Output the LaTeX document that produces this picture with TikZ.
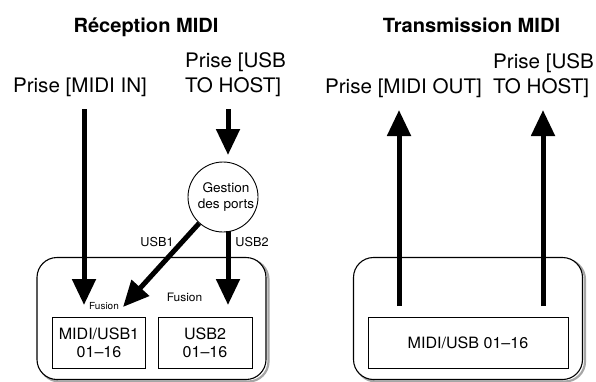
\documentclass[tikz,border=0pt]{standalone}
\usepackage{fontspec}
\setmainfont{TeX Gyre Heros}[FakeStretch=1.03]
\usetikzlibrary{arrows.meta}
\begin{document}
\begin{tikzpicture}[x=1pt,y=-1pt,
  bigarrow/.style={line width=5pt,-{Triangle[width=23pt,length=26pt]}},
  container/.style={draw,line width=1.1pt,rounded corners=20pt,fill=white,inner sep=0pt,
    minimum width=229pt,minimum height=122pt},
  shadowbox/.style={draw=black!35,line width=2.2pt,rounded corners=20pt,inner sep=0pt,
    minimum width=229pt,minimum height=122pt},
  chanbox/.style={draw,line width=0.9pt,fill=white,inner sep=0pt,minimum height=51pt,
    align=center,font=\fontsize{15.6}{18}\selectfont},
  jack/.style={inner sep=0pt,anchor=base,align=left,font=\fontsize{20}{25}\selectfont},
  heading/.style={inner sep=0pt,anchor=base,font=\fontsize{19.5}{20}\selectfont\bfseries},
  small/.style={inner sep=0pt,font=\fontsize{12.3}{13}\selectfont},
]
\useasboundingbox (0,0) rectangle (596,381);

% headings
\node[heading] (t1) at (146,32) {Réception MIDI};
\node[heading] (t2) at (471.5,32) {Transmission MIDI};

% jack labels
\node[jack] (midiin) at (80,92) {Prise [MIDI IN]};
\node[jack,anchor=base west] (usbin1) at (185,67) {Prise [USB};
\node[jack,anchor=base west] (usbin2) at (185,92) {TO HOST]};
\node[jack] (midiout) at (403.5,93) {Prise [MIDI OUT]};
\node[jack,anchor=base west] (usbout1) at (493,68) {Prise [USB};
\node[jack,anchor=base west] (usbout2) at (493,93) {TO HOST]};

% containers (with shadow)
\node[shadowbox] at (154,320.5) {};
\node[container] (lbox) at (151.5,318.5) {};
\node[shadowbox] at (470.5,320.5) {};
\node[container] (rbox) at (468,318.5) {};

% channel boxes
\node[chanbox,minimum width=93pt] (ch1) at (99,342.5) {MIDI/USB1\\01–16};
\node[chanbox,minimum width=94pt] (ch2) at (205,342.5) {USB2\\01–16};
\node[chanbox,minimum width=200pt] (ch3) at (468,342.5) {MIDI/USB 01–16};

% port management circle
\node[circle,draw,line width=0.9pt,fill=white,minimum size=70pt,inner sep=0pt,align=center,
  font=\fontsize{13.2}{15.5}\selectfont] (gest) at (223,197) {\hspace*{6pt}Gestion\\\hspace*{6pt}des ports};

% small labels
\node[small] (l1) at (157,242) {USB1};
\node[small] (l2) at (252,242) {USB2};
\node[inner sep=0pt,font=\fontsize{9.7}{11}\selectfont] (f1) at (104,306) {Fusion};
\node[inner sep=0pt,font=\fontsize{11.6}{12}\selectfont] (f2) at (184.5,297) {Fusion};

% arrow end points
\coordinate (inTop) at (84,109);
\coordinate (inTip) at (84,305);
\coordinate (usbTop) at (228,109);
\coordinate (usbTip) at (228,155);
\coordinate (u2Start) at (228,231);
\coordinate (u2Tip) at (228,305);
\coordinate (u1Tip) at (123,307);
\coordinate (o1Start) at (399,306);
\coordinate (o1Tip) at (399,110);
\coordinate (o2Start) at (543,306);
\coordinate (o2Tip) at (543,110);

\draw[bigarrow] (inTop) -- (inTip);
\draw[bigarrow] (usbTop) -- (usbTip);
\draw[bigarrow] (u2Start) -- (u2Tip);
\draw[bigarrow] (gest) -- (u1Tip);
\draw[bigarrow] (o1Start) -- (o1Tip);
\draw[bigarrow] (o2Start) -- (o2Tip);
\end{tikzpicture}
\end{document}
